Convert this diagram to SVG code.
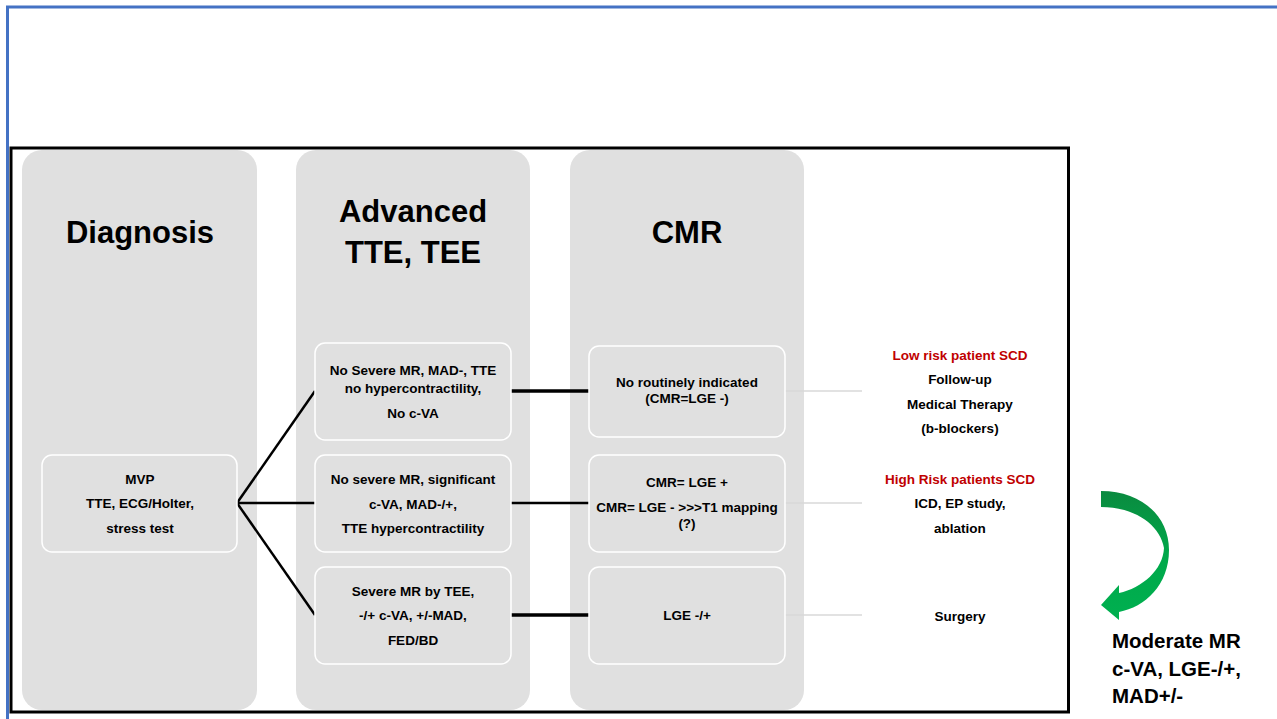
<svg xmlns="http://www.w3.org/2000/svg" width="1277" height="719" viewBox="0 0 1277 719">
  <style>
    .col { fill: #e0e0e0; }
    .box { fill: #e0e0e0; stroke: #ffffff; stroke-width: 1.5; }
    .t { font-family: "Liberation Sans", Arial, sans-serif; font-weight: bold; fill: #000; text-anchor: middle; }
    .s { font-size: 13.5px; }
    .h { font-size: 31px; }
    .red { fill: #c00000; }
    .blk { stroke: #000; stroke-width: 2.5; fill: none; }
    .thick { stroke: #000; stroke-width: 3.5; fill: none; }
    .gray { stroke: #d9d9d9; stroke-width: 1.5; fill: none; }
  </style>
  <defs>
    <linearGradient id="grn" x1="0" y1="0" x2="0" y2="1">
      <stop offset="0" stop-color="#0a8a3f"/>
      <stop offset="0.5" stop-color="#00a84a"/>
      <stop offset="1" stop-color="#00b050"/>
    </linearGradient>
  </defs>
  <rect width="1277" height="719" fill="#ffffff"/>
  <g id="frame">
    <path d="M7.5,719 V7 H1277" fill="none" stroke="#4472c4" stroke-width="3"/>
    <rect x="11" y="148" width="1057.5" height="564" fill="#ffffff" stroke="#000" stroke-width="3"/>
  </g>
  <g id="col-diagnosis">
    <rect class="col" x="22" y="150" width="235" height="560" rx="20"/>
    <text class="t h" x="140" y="243">Diagnosis</text>
  </g>
  <g id="col-advanced">
    <rect class="col" x="296" y="150" width="234" height="560" rx="20"/>
    <text class="t h" x="413" y="222">Advanced</text>
    <text class="t h" x="413" y="263">TTE, TEE</text>
  </g>
  <g id="col-cmr">
    <rect class="col" x="570" y="150" width="234" height="560" rx="20"/>
    <text class="t h" x="687" y="243">CMR</text>
  </g>
  <g id="connectors">
    <line class="blk" x1="237" y1="503" x2="315" y2="391"/>
    <line class="blk" x1="237" y1="503" x2="315" y2="503"/>
    <line class="blk" x1="237" y1="503" x2="315" y2="615"/>
    <line class="thick" x1="511" y1="391" x2="589" y2="391"/>
    <line class="blk" x1="511" y1="503" x2="589" y2="503"/>
    <line class="thick" x1="511" y1="615" x2="589" y2="615"/>
    <line class="gray" x1="785" y1="391" x2="862" y2="391"/>
    <line class="gray" x1="785" y1="503" x2="862" y2="503"/>
    <line class="gray" x1="785" y1="615" x2="862" y2="615"/>
  </g>
  <g id="node-mvp">
    <rect class="box" x="42" y="455" width="195" height="97" rx="10"/>
    <text class="t s" x="140" y="484">MVP</text>
    <text class="t s" x="140" y="508">TTE, ECG/Holter,</text>
    <text class="t s" x="140" y="533">stress test</text>
  </g>
  <g id="node-a1">
    <rect class="box" x="315" y="343" width="196" height="97" rx="10"/>
    <text class="t s" x="413" y="375">No Severe MR, MAD-, TTE</text>
    <text class="t s" x="413" y="393">no hypercontractility,</text>
    <text class="t s" x="413" y="418">No c-VA</text>
  </g>
  <g id="node-a2">
    <rect class="box" x="315" y="455" width="196" height="97" rx="10"/>
    <text class="t s" x="413" y="484">No severe MR, significant</text>
    <text class="t s" x="413" y="509">c-VA, MAD-/+,</text>
    <text class="t s" x="413" y="533">TTE hypercontractility</text>
  </g>
  <g id="node-a3">
    <rect class="box" x="315" y="567" width="196" height="97" rx="10"/>
    <text class="t s" x="413" y="596">Severe MR by TEE,</text>
    <text class="t s" x="413" y="620">-/+ c-VA, +/-MAD,</text>
    <text class="t s" x="413" y="645">FED/BD</text>
  </g>
  <g id="node-c1">
    <rect class="box" x="589" y="346" width="196" height="91" rx="10"/>
    <text class="t s" x="687" y="387">No routinely indicated</text>
    <text class="t s" x="687" y="403">(CMR=LGE -)</text>
  </g>
  <g id="node-c2">
    <rect class="box" x="589" y="455" width="196" height="97" rx="10"/>
    <text class="t s" x="687" y="487">CMR= LGE +</text>
    <text class="t s" x="687" y="512">CMR= LGE - &gt;&gt;&gt;T1 mapping</text>
    <text class="t s" x="687" y="528">(?)</text>
  </g>
  <g id="node-c3">
    <rect class="box" x="589" y="567" width="196" height="97" rx="10"/>
    <text class="t s" x="687" y="620">LGE -/+</text>
  </g>
  <g id="out-low">
    <text class="t s red" x="960" y="360">Low risk patient SCD</text>
    <text class="t s" x="960" y="384">Follow-up</text>
    <text class="t s" x="960" y="409">Medical Therapy</text>
    <text class="t s" x="960" y="433">(b-blockers)</text>
  </g>
  <g id="out-high">
    <text class="t s red" x="960" y="484">High Risk patients SCD</text>
    <text class="t s" x="960" y="508">ICD, EP study,</text>
    <text class="t s" x="960" y="533">ablation</text>
  </g>
  <g id="out-surgery">
    <text class="t s" x="960" y="621">Surgery</text>
  </g>
  <g id="moderate">
    <path d="M1101,491 C1140,491 1169,515 1169,550 C1169,585 1145,607 1119,612 L1119,620 L1101,605 L1119,585 L1119,593 C1142,588 1163,570 1164,548 C1160,525 1135,507 1101,507 Z" fill="url(#grn)"/>
    <text class="t" style="font-size:20.5px;text-anchor:start" x="1112" y="648">Moderate MR</text>
    <text class="t" style="font-size:20.5px;text-anchor:start" x="1112" y="676">c-VA, LGE-/+,</text>
    <text class="t" style="font-size:20.5px;text-anchor:start" x="1112" y="703">MAD+/-</text>
  </g>
</svg>
